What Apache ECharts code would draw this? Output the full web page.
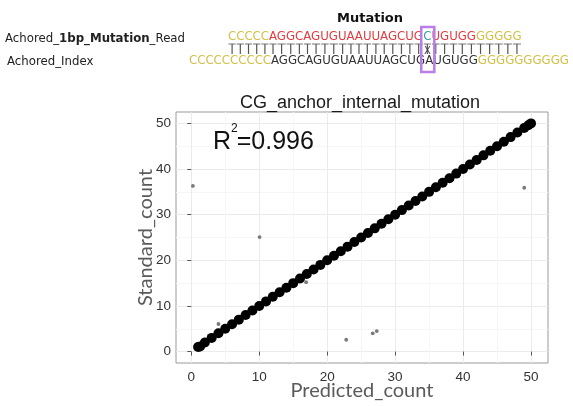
<!DOCTYPE html>
<html>
<head>
<meta charset="utf-8">
<script src="https://cdn.jsdelivr.net/npm/echarts@6/dist/echarts.min.js"></script>
<style>
  html, body { margin: 0; padding: 0; background: #fff; }
  #chart { width: 573px; height: 406px; }
</style>
</head>
<body>
<div id="chart"></div>
<script>
// Predicted vs. standard counts: reads that line up on the diagonal
const diagPredicted = [1, 1.3, 2, 3, 4, 5, 6, 7, 8, 9, 10, 11, 12, 13, 14, 15, 16, 17, 18, 19, 20,
  21, 22, 23, 24, 25, 26, 27, 28, 29, 30, 31, 32, 33, 34, 35, 36, 37, 38, 39, 40,
  41, 42, 43, 44, 45, 46, 47, 48, 49, 49.6, 50];
const diagStandard = [1, 1.1, 2, 3, 4, 5, 6, 7, 8, 9, 10, 11, 12, 13, 14, 15, 16, 17, 18, 19, 20,
  21, 22, 23, 24, 25, 26, 27, 28, 29, 30, 31, 32, 33, 34, 35, 36, 37, 38, 39, 40,
  41, 42, 43, 44, 45, 46, 47, 48, 49, 49.6, 50];

// Off-diagonal reads
const offPredicted = [0.24, 4.0, 10.05, 16.9, 22.8, 26.7, 27.3, 49.0];
const offStandard = [36.3, 6.05, 25.1, 15.2, 2.6, 4.0, 4.5, 35.9];

const axisTicks = [0, 10, 20, 30, 40, 50];

const chartTitle = 'CG_anchor_internal_mutation';
const rSquared = '0.996';

// Sequence alignment shown above the plot
const readLabel = ['Achored_', '1bp_Mutation', '_Read'];
const indexLabel = 'Achored_Index';
const readSegments = [
  ['CCCCC', 'anchor'],
  ['AGGCAGUGUAAUUAGCUG', 'read'],
  ['C', 'mut'],
  ['UGUGG', 'read'],
  ['GGGGG', 'anchor']
];
const indexSegments = [
  ['CCCCCCCCCC', 'anchor'],
  ['AGGCAGUGUAAUUAGCUG', 'index'],
  ['A', 'index'],
  ['UGUGG', 'index'],
  ['GGGGGGGGGG', 'anchor']
];
const mutationSegment = 2;

const seqColors = { anchor: '#d2bf45', read: '#e23a3f', mut: '#35a0a0', index: '#333333' };

const toPairs = (xs, ys) => xs.map((x, i) => [x, ys[i]]);

const measureCtx = document.createElement('canvas').getContext('2d');
function textWidth(text, font) {
  measureCtx.font = font;
  return measureCtx.measureText(text).width;
}

const seqFont = '11.75px "DejaVu Sans"';
const labelFont = '11.75px "DejaVu Sans"';
const labelBold = 'bold 11.75px "DejaVu Sans"';

const graphics = [];

// Row of coloured sequence segments; returns left/right of each character
function seqRow(segments, x0, y) {
  const chars = [];
  let x = x0;
  segments.forEach((seg, si) => {
    const [text, kind] = seg;
    graphics.push({
      type: 'text', x: x, y: y,
      style: { text: text, font: seqFont, fill: seqColors[kind], verticalAlign: 'middle', align: 'left' }
    });
    for (const ch of text) {
      const cw = textWidth(ch, seqFont);
      chars.push({ left: x, right: x + cw, seg: si });
      x += cw;
    }
  });
  return chars;
}

const readChars = seqRow(readSegments, 228, 37);
const indexChars = seqRow(indexSegments, 189, 61);

// pairing ticks beneath the read row
readChars.forEach((c) => {
  const cx = (c.left + c.right) / 2;
  graphics.push({
    type: 'line',
    shape: { x1: c.left + 0.5, y1: 44, x2: c.right - 0.5, y2: 44 },
    style: { stroke: '#777', lineWidth: 1 }
  });
  graphics.push({
    type: 'line',
    shape: { x1: cx, y1: 44, x2: cx, y2: 54 },
    style: { stroke: '#555', lineWidth: 1.2 }
  });
  if (c.seg === mutationSegment) {
    graphics.push({
      type: 'text', x: cx, y: 51,
      style: { text: 'X', font: '10px "DejaVu Sans"', fill: '#444', align: 'center', verticalAlign: 'middle' }
    });
  }
});

// box around the mismatched base
const mutRead = readChars.find(c => c.seg === mutationSegment);
const mutIndex = indexChars.find(c => c.seg === mutationSegment);
const boxLeft = Math.min(mutRead.left, mutIndex.left) - 2;
const boxRight = Math.max(mutRead.right, mutIndex.right) + 1;
graphics.push({
  type: 'rect',
  shape: { x: boxLeft, y: 27, width: boxRight - boxLeft, height: 45 },
  style: { fill: 'none', stroke: '#b97ee8', lineWidth: 2.5 }
});

graphics.push({
  type: 'text', x: 370, y: 19,
  style: { text: 'Mutation', font: 'bold 13px "DejaVu Sans"', fill: '#111', align: 'center', verticalAlign: 'middle' }
});

// row labels
let lx = 5;
readLabel.forEach((part, i) => {
  const f = i === 1 ? labelBold : labelFont;
  graphics.push({
    type: 'text', x: lx, y: 39,
    style: { text: part, font: f, fill: '#222', verticalAlign: 'middle', align: 'left' }
  });
  lx += textWidth(part, f);
});
graphics.push({
  type: 'text', x: 7, y: 62,
  style: { text: indexLabel, font: labelFont, fill: '#222', verticalAlign: 'middle', align: 'left' }
});

// R squared annotation
const rFont = '25px "Liberation Sans"';
const supFont = '12px "Liberation Sans"';
const rx = 213;
const rW = textWidth('R', rFont);
graphics.push({
  type: 'text', x: rx, y: 142, z: 100,
  style: { text: 'R', font: rFont, fill: '#111', verticalAlign: 'middle', align: 'left' }
});
graphics.push({
  type: 'text', x: rx + rW, y: 129, z: 100,
  style: { text: '2', font: supFont, fill: '#111', verticalAlign: 'middle', align: 'left' }
});
graphics.push({
  type: 'text', x: rx + rW + textWidth('2', supFont) - 1, y: 142, z: 100,
  style: { text: '=' + rSquared, font: rFont, fill: '#111', verticalAlign: 'middle', align: 'left' }
});

const axisCommon = {
  type: 'value',
  splitNumber: 5,
  axisLine: { show: false },
  axisTick: { show: true, length: 4, lineStyle: { color: '#555' }, customValues: axisTicks },
  axisLabel: {
    customValues: axisTicks,
    fontFamily: 'Liberation Sans', fontSize: 13.5, color: '#333'
  },
  splitLine: { show: true, lineStyle: { color: '#ebebeb', width: 1 } },
  minorTick: { show: false, splitNumber: 2 },
  minorSplitLine: { show: true, lineStyle: { color: '#f6f6f6', width: 1 } },
  nameLocation: 'middle',
  nameMoveOverlap: false,
  nameTextStyle: { fontFamily: 'Lato', fontSize: 20, color: '#5a5a5a' }
};

const chart = echarts.init(document.getElementById('chart'), null, { renderer: 'canvas' });
chart.setOption({
  animation: false,
  backgroundColor: '#fff',
  title: {
    text: chartTitle,
    left: 355, top: 89, textAlign: 'center',
    textStyle: { fontFamily: 'Liberation Sans', fontSize: 18, fontWeight: 'normal', color: '#1a1a1a' }
  },
  grid: {
    left: 176, right: 25, top: 112, bottom: 41,
    show: true, borderColor: '#9a9a9a', borderWidth: 1, backgroundColor: 'transparent'
  },
  xAxis: Object.assign({}, axisCommon, {
    min: -2.25, max: 52.5,
    name: 'Predicted_count', nameGap: 18,
    axisLabel: Object.assign({}, axisCommon.axisLabel, { margin: 7 })
  }),
  yAxis: Object.assign({}, axisCommon, {
    min: -2.5, max: 52.5,
    name: 'Standard_count', nameGap: 20,
    axisLabel: Object.assign({}, axisCommon.axisLabel, { margin: 5 })
  }),
  series: [
    {
      type: 'scatter',
      data: toPairs(offPredicted, offStandard),
      symbolSize: 3.8,
      itemStyle: { color: '#7a7a7a', opacity: 1 }
    },
    {
      type: 'scatter',
      data: toPairs(diagPredicted, diagStandard),
      symbolSize: 10,
      itemStyle: { color: '#000', opacity: 1 }
    }
  ],
  graphic: graphics
});
</script>
</body>
</html>
